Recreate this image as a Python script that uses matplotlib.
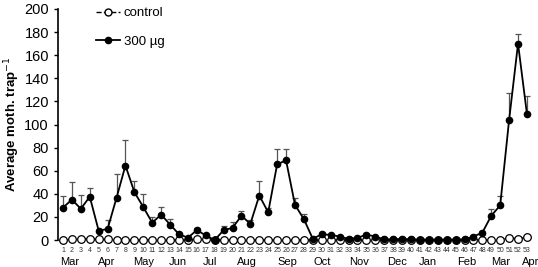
import matplotlib
matplotlib.use("Agg")
import matplotlib.pyplot as plt
from matplotlib.lines import Line2D
import numpy as np

plt.rcParams['font.family'] = ['Liberation Sans', 'DejaVu Sans']

weeks = np.arange(1, 54)

treat = [28, 35, 27, 37.5, 8, 9.6, 36.5, 64.5, 41.5, 28.5, 15, 22, 13.4, 5, 2,
         8.5, 4, 0, 8.5, 10.5, 21, 14, 38.5, 24, 65.5, 69, 30.5, 18, 1,
         5, 4.4, 3, 1, 1.8, 4.7, 3, 0.5, 0.5, 1, 0.5, 0.3, 0.3, 0.3, 0.3,
         0.3, 0.5, 3, 6.4, 21, 30, 104, 170, 109]
treat_err = [10, 15, 12, 7.5, 1, 7.5, 21, 22, 10, 11, 5, 7, 5, 1, 0.5,
             2, 1.5, 0, 3.5, 5, 4.5, 3.5, 13, 4, 13, 10, 6, 4.5, 0.5,
             1.5, 1, 0.5, 0.3, 0.5, 1, 0.5, 0.2, 0.2, 0.2, 0.2, 0.1, 0.1, 0.1, 0.1,
             0.1, 0.2, 1, 1.5, 6, 8, 23, 8, 16]
control = [0, 0.5, 1, 1, 0.5, 0.5, 0, 0, 0, 0, 0, 0, 0, 0, 0, 0.5, 0.5, 0, 0, 0,
           0, 0, 0, 0, 0, 0, 0, 0, 0, 0, 0, 0, 0, 0, 0, 0, 0, 0, 0, 0,
           0, 0, 0, 0, 0, 0, 0, 0, 0, 0, 2, 1, 2.5]

months = ['Mar', 'Apr', 'May', 'Jun', 'Jul', 'Aug', 'Sep', 'Oct', 'Nov',
          'Dec', 'Jan', 'Feb', 'Mar', 'Apr']
month_pos = [1.8, 5.9, 10, 13.9, 17.5, 21.6, 26.1, 30.1, 34.2, 38.4, 41.9,
             46.2, 50, 53.4]

fig = plt.figure(figsize=(5.38, 2.67), dpi=100)
ax = fig.add_axes([0.1078, 0.1011, 0.8866, 0.8652])

ax.errorbar(weeks, treat, yerr=[np.zeros(len(treat)), treat_err], fmt='none',
            ecolor='#555555', elinewidth=0.9, capsize=2, capthick=0.9, zorder=2)
ax.plot(weeks, control, '--', color='black', lw=1.0, marker='o', ms=5.5,
        mfc='white', mec='black', mew=0.9, clip_on=False, zorder=3)
ax.plot(weeks, treat, '-', color='black', lw=1.3, marker='o', ms=4.5,
        mfc='black', mec='black', clip_on=False, zorder=4)

ax.set_xlim(0.44, 53.9)
ax.set_ylim(0, 200)
ax.set_yticks(range(0, 201, 20))
ax.tick_params(axis='y', labelsize=10.5, length=3, width=1)
ax.set_xticks(weeks)
ax.set_xticklabels([str(w) for w in weeks], fontsize=5, color='#333333')
ax.tick_params(axis='x', length=0, pad=5)

for s in ['top', 'right', 'bottom']:
    ax.spines[s].set_visible(False)
ax.spines['left'].set_linewidth(1.2)

for m, p in zip(months, month_pos):
    ax.text(p, -0.095, m, transform=ax.get_xaxis_transform(), fontsize=8,
            ha='center', va='center')

ax.set_ylabel('Average moth. trap$^{-1}$', fontsize=9.5, fontweight='bold',
              labelpad=2)

handles = [Line2D([], [], ls='--', color='black', lw=1.0, marker='o', ms=5,
                  mfc='white', mec='black'),
           Line2D([], [], ls='-', color='black', lw=1.3, marker='o', ms=4.5,
                  mfc='black')]
ax.legend(handles, ['control', '300 \u00b5g'], loc='upper left',
          bbox_to_anchor=(0.055, 1.06), frameon=False, fontsize=9.5,
          handlelength=1.8, handletextpad=0.3, labelspacing=1.25)

fig.savefig('out.png', dpi=100)
